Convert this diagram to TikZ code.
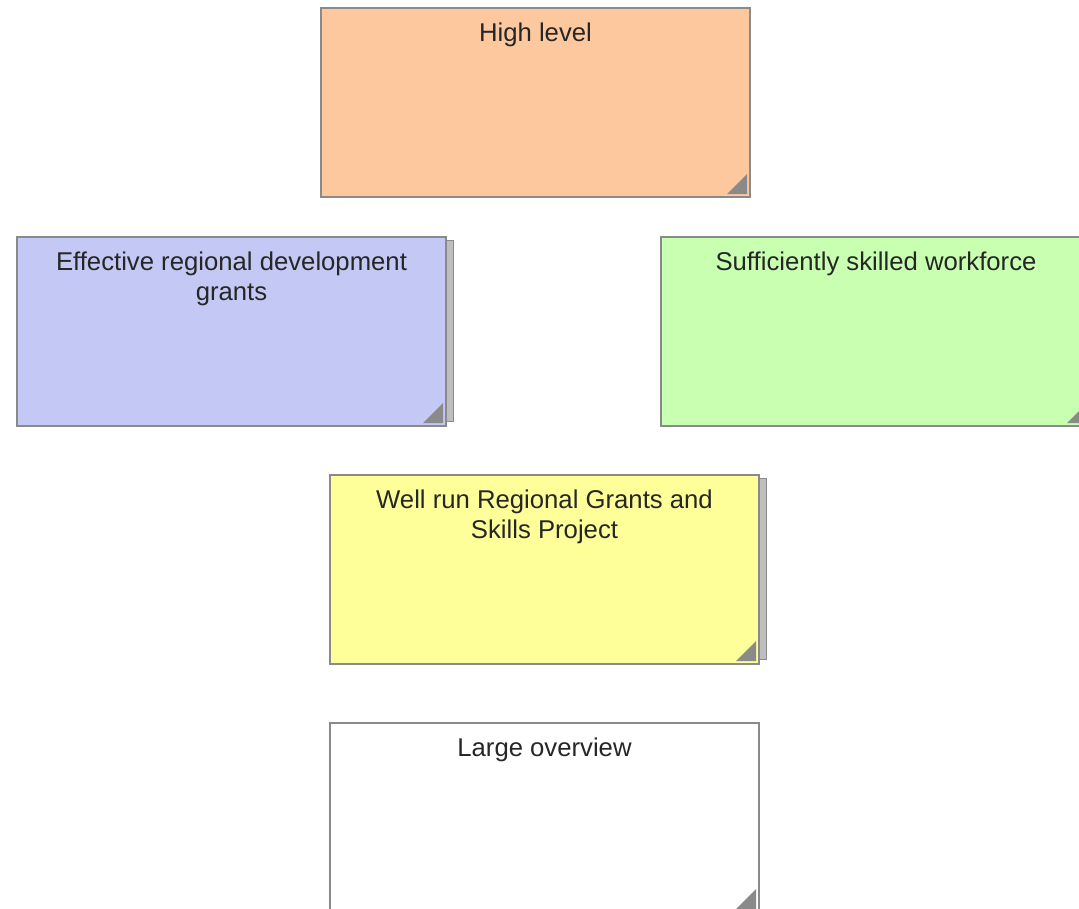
\documentclass[tikz,border=0pt]{standalone}
\usepackage{fontspec}
\setmainfont{Liberation Sans}
\definecolor{bordergray}{HTML}{8A8A8A}
\definecolor{shadowgray}{HTML}{BEBEBE}
\definecolor{txtgray}{HTML}{262626}
\definecolor{cOrange}{HTML}{FEC89E}
\definecolor{cBlue}{HTML}{C4C8F4}
\definecolor{cGreen}{HTML}{C8FFB0}
\definecolor{cYellow}{HTML}{FFFF99}
\begin{document}
\begin{tikzpicture}[x=1pt,y=-1pt,
  card/.style={rectangle, draw=bordergray, line width=2pt, minimum width=429pt, minimum height=189pt, anchor=north west, inner sep=0pt},
  shadowcard/.style={rectangle, draw=bordergray, line width=1pt, fill=shadowgray, minimum width=429pt, minimum height=181pt, anchor=north west, inner sep=0pt},
  cardtext/.style={anchor=north, inner sep=0pt, font=\fontsize{25.7}{30}\selectfont, text=txtgray, align=center},
  corner/.style={fill=bordergray, draw=none}]
\useasboundingbox (0,0) rectangle (1079,908);
\clip (0,0) rectangle (1079,908);
\fill[white] (0,0) rectangle (1079,908);

% shadows
\node[shadowcard] (s2) at (24,240) {};
\node[shadowcard] (s4) at (337,478) {};

% cards
\node[card, fill=cOrange] (b1) at (320,7) {};
\node[card, fill=cBlue] (b2) at (16,236) {};
\node[card, fill=cGreen] (b3) at (660,236) {};
\node[card, fill=cYellow] (b4) at (329,474) {};
\node[card, fill=white] (b5) at (329,722) {};

% corner triangles
\foreach \b in {b1,b2,b3,b4,b5}{
  \fill[corner] ([shift={(-4,-24)}]\b.south east) -- ([shift={(-4,-4)}]\b.south east) -- ([shift={(-24,-4)}]\b.south east) -- cycle;
}

% texts
\node[cardtext] (t1) at ([yshift=-16]b1.north) {High level};
\node[cardtext] (t2) at ([yshift=-16]b2.north) {Effective regional development\\grants};
\node[cardtext] (t3) at ([yshift=-16]b3.north -| 876,0) {Sufficiently skilled workforce};
\node[cardtext] (t4) at ([yshift=-16]b4.north) {Well run Regional Grants and\\Skills Project};
\node[cardtext] (t5) at ([yshift=-16]b5.north) {Large overview};
\end{tikzpicture}
\end{document}
